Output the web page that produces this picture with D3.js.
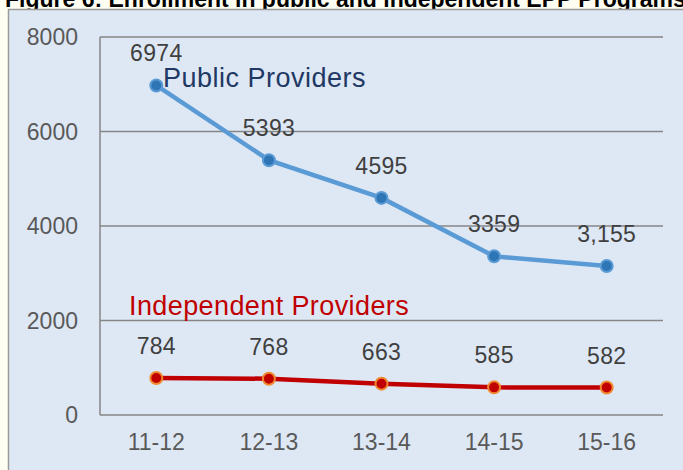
<!DOCTYPE html>
<html>
<head>
<meta charset="utf-8">
<script src="https://cdn.jsdelivr.net/npm/d3@7"></script>
<style>
  html, body { margin: 0; padding: 0; background: #fffef3; }
  svg { display: block; font-family: "Liberation Sans", Arial, sans-serif; }
</style>
</head>
<body>
<svg id="chart"></svg>
<script>
const years = ['11-12', '12-13', '13-14', '14-15', '15-16'];
const publicValues = [6974, 5393, 4595, 3359, 3155];
const publicLabels = ['6974', '5393', '4595', '3359', '3,155'];
const independentValues = [784, 768, 663, 585, 582];
const independentLabels = ['784', '768', '663', '585', '582'];
const yTicks = [0, 2000, 4000, 6000, 8000];

const width = 683, height = 470;
const margin = { top: 37, right: 20, bottom: 55, left: 100 };

const svg = d3.select('#chart')
    .attr('width', width)
    .attr('height', height);

// title, mostly cut off at the top edge
svg.append('text')
    .attr('x', 5)
    .attr('y', 7)
    .attr('font-size', '23px')
    .attr('font-weight', 'bold')
    .attr('fill', '#000')
    .text('Figure 6: Enrollment in public and independent EPP Programs');

// chart box
svg.append('rect')
    .attr('x', 8.5)
    .attr('y', 9.5)
    .attr('width', 700)
    .attr('height', 480)
    .attr('fill', '#dee8f5')
    .attr('stroke', '#9a9a9a')
    .attr('stroke-width', 1.5);

const chart = svg.append('g')
    .attr('transform', `translate(${margin.left}, ${margin.top})`);

const innerWidth = 663 - margin.left;
const innerHeight = 415 - margin.top;

const xscale = d3.scalePoint()
    .domain(years)
    .range([0, innerWidth])
    .padding(0.5);

const yscale = d3.scaleLinear()
    .domain([0, 8000])
    .range([innerHeight, 0]);

// gridlines
chart.selectAll('line.grid')
    .data(yTicks).enter()
    .append('line')
    .attr('class', 'grid')
    .attr('x1', 0)
    .attr('x2', innerWidth)
    .attr('y1', d => yscale(d))
    .attr('y2', d => yscale(d))
    .attr('stroke', '#868686')
    .attr('stroke-width', 1.5);

chart.append('line')
    .attr('x1', 0).attr('x2', 0)
    .attr('y1', 0).attr('y2', innerHeight)
    .attr('stroke', '#868686')
    .attr('stroke-width', 1.5);

// y tick labels
chart.selectAll('text.ytick')
    .data(yTicks).enter()
    .append('text')
    .attr('class', 'ytick')
    .attr('x', -22)
    .attr('y', d => yscale(d) + 8)
    .attr('text-anchor', 'end')
    .attr('font-size', '23px')
    .attr('fill', '#595959')
    .text(d => d);

// x tick labels
chart.selectAll('text.xtick')
    .data(years).enter()
    .append('text')
    .attr('class', 'xtick')
    .attr('x', d => xscale(d))
    .attr('y', innerHeight + 35)
    .attr('text-anchor', 'middle')
    .attr('font-size', '23px')
    .attr('fill', '#595959')
    .text(d => d);

function drawSeries(values, labels, lineColor, dotFill, dotStroke) {
    const pts = values.map((v, i) => ({ x: years[i], v: v, label: labels[i] }));
    const line = d3.line()
        .x(d => xscale(d.x))
        .y(d => yscale(d.v));

    chart.append('path')
        .datum(pts)
        .attr('d', line)
        .attr('fill', 'none')
        .attr('stroke', lineColor)
        .attr('stroke-width', 4.5);

    chart.append('g').selectAll('circle')
        .data(pts).enter()
        .append('circle')
        .attr('cx', d => xscale(d.x))
        .attr('cy', d => yscale(d.v))
        .attr('r', 6)
        .attr('fill', dotFill)
        .attr('stroke', dotStroke)
        .attr('stroke-width', 2);

    chart.append('g').selectAll('text')
        .data(pts).enter()
        .append('text')
        .attr('x', d => xscale(d.x))
        .attr('y', d => yscale(d.v) - 24)
        .attr('text-anchor', 'middle')
        .attr('font-size', '23px')
        .attr('letter-spacing', '0.3px')
        .attr('fill', '#404040')
        .text(d => d.label);
}

drawSeries(publicValues, publicLabels, '#5b9bd5', '#2e75b6', '#5b9bd5');
drawSeries(independentValues, independentLabels, '#c00000', '#c00000', '#f08a30');

// series names
svg.append('text')
    .attr('x', 163)
    .attr('y', 87)
    .attr('font-size', '27px')
    .attr('letter-spacing', '0.5px')
    .attr('fill', '#1f3864')
    .text('Public Providers');

svg.append('text')
    .attr('x', 129)
    .attr('y', 315)
    .attr('font-size', '27px')
    .attr('letter-spacing', '0.4px')
    .attr('fill', '#c00000')
    .text('Independent Providers');
</script>
</body>
</html>
